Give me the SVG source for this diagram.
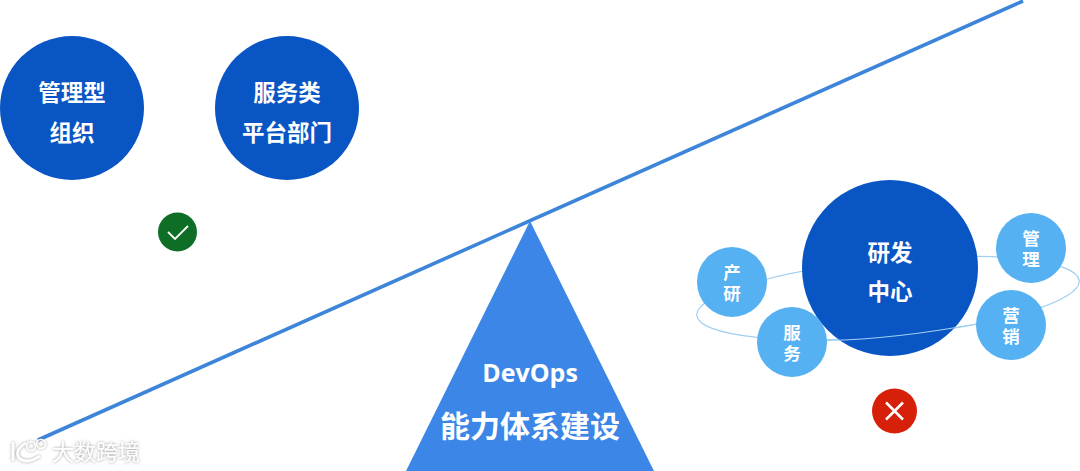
<svg xmlns="http://www.w3.org/2000/svg" width="1080" height="471" viewBox="0 0 1080 471">
<defs>
<style>
text{font-family:"Noto Sans CJK SC","Noto Sans",sans-serif;font-weight:700;fill:#fff;text-anchor:middle}
.dark{fill:#0955c4}
.light{fill:#55b1f2}
.big{font-size:22.500px}
.small{font-size:17.500px;writing-mode:vertical-rl;letter-spacing:4px}
.orbit{fill:none;stroke:#9fd0f2;stroke-width:1.2}
</style>
<filter id="wm" x="-20%" y="-30%" width="140%" height="160%"><feDropShadow dx="0" dy="0" stdDeviation="1.4" flood-color="#777" flood-opacity="0.8"/></filter>
</defs>
<rect width="1080" height="471" fill="#fff"/>
<g id="connectors">
<line x1="38" y1="440" x2="1023" y2="1" stroke="#3d85d8" stroke-width="3.600"/>
<ellipse class="orbit" cx="888" cy="298" rx="192" ry="38" transform="rotate(-5.2 888 298)"/>
</g>
<g id="fulcrum">
<polygon points="530,221 654,471 406,471" fill="#3b86e6"/>
<text x="530" y="382" style="font-size:25px;font-family:'Open Sans','Noto Sans',sans-serif">DevOps</text>
<text x="530" y="437" style="font-size:30px">能力体系建设</text>
</g>
<g id="node-manage"><circle class="dark" cx="72" cy="108" r="72"/>
<text class="big" x="72" y="101">管理型</text><text class="big" x="72" y="141">组织</text></g>
<g id="node-service"><circle class="dark" cx="287" cy="108" r="72"/>
<text class="big" x="287" y="101">服务类</text><text class="big" x="287" y="141">平台部门</text></g>
<g id="check"><circle cx="177.500" cy="232" r="19.500" fill="#0e6e25"/>
<path d="M168 232 L175 239 L188 226" fill="none" stroke="#fff" stroke-width="1.800"/></g>
<g id="node-rd"><circle class="dark" cx="890" cy="268" r="88"/>
<text class="big" x="890" y="261">研发</text><text class="big" x="890" y="300">中心</text>
<path class="orbit" d="M827 340.500 Q895 339 976 324"/></g>
<g id="node-product"><circle class="light" cx="732" cy="282" r="35"/>
<text class="small" x="732" y="285">产研</text></g>
<g id="node-serve"><circle class="light" cx="792" cy="342" r="35"/>
<text class="small" x="792" y="345">服务</text></g>
<g id="node-mgmt"><circle class="light" cx="1031" cy="248" r="35"/>
<text class="small" x="1031" y="251">管理</text></g>
<g id="node-market"><circle class="light" cx="1011" cy="325" r="35"/>
<text class="small" x="1011" y="328">营销</text></g>
<g id="cross"><circle cx="894.500" cy="411" r="22.500" fill="#d6200a"/>
<path d="M886 402.500 L903 419.500 M903 402.500 L886 419.500" fill="none" stroke="#fff" stroke-width="2.500"/></g>
<g id="watermark" filter="url(#wm)">
<path d="M13 442 V461 M26 443 Q14 450 19 458 Q26 465 40 456" fill="none" stroke="#fff" stroke-width="2.500"/>
<circle cx="31" cy="446" r="4.500" fill="none" stroke="#fff" stroke-width="1.500"/>
<circle cx="41" cy="444" r="4.500" fill="none" stroke="#fff" stroke-width="1.500"/>
<text x="96" y="460" style="font-size:22px;font-weight:400">大数跨境</text>
</g>
</svg>
